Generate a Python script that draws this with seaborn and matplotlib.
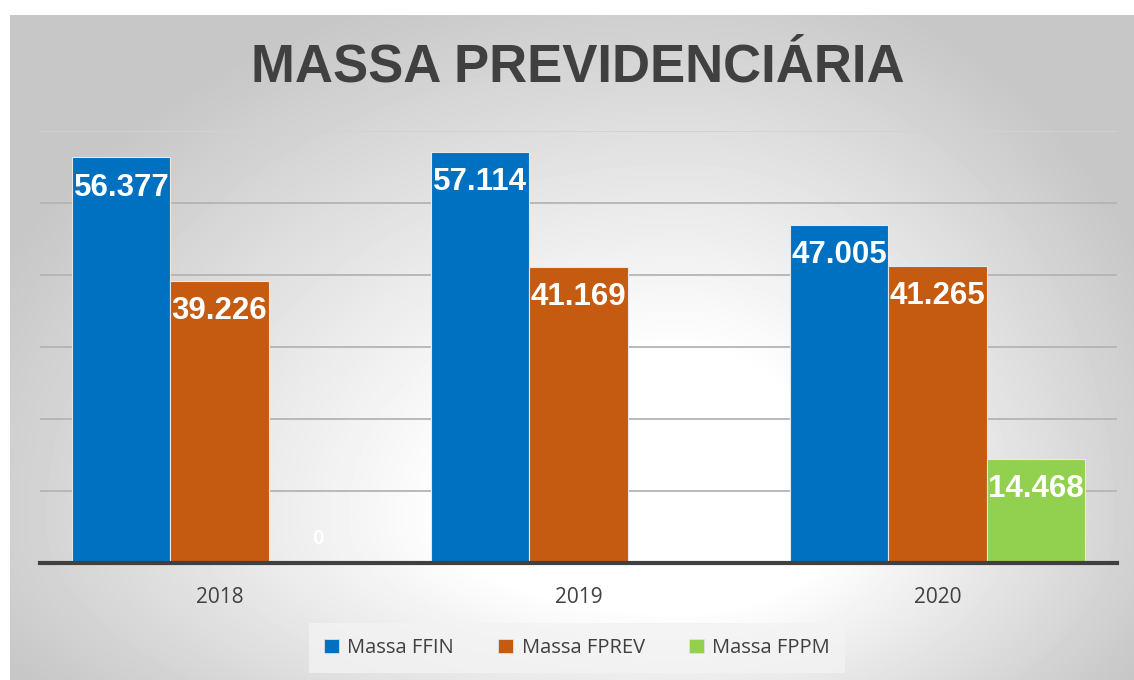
import numpy as np
import pandas as pd
import seaborn as sns
import matplotlib.pyplot as plt
from matplotlib.patches import Patch

anos = ["2018", "2019", "2020"]
series = ["Massa FFIN", "Massa FPREV", "Massa FPPM"]
ffin = [56377, 57114, 47005]
fprev = [39226, 41169, 41265]
fppm = [0, np.nan, 14468]  # 2019 sem valor
cores = ["#0070C0", "#C55A11", "#92D050"]

df = pd.DataFrame({
    "ano": anos * 3,
    "serie": [s for s in series for _ in anos],
    "valor": ffin + fprev + fppm,
})

sns.set_theme(style="white")
plt.rcParams["font.family"] = ["Liberation Sans", "DejaVu Sans"]

W, H = 1134, 680
fig = plt.figure(figsize=(W / 100, H / 100), dpi=100)
fig.patch.set_facecolor("white")

# fundo com gradiente (claro no centro, cinza nas bordas)
bg = fig.add_axes([10 / W, 0, 1 - 10 / W, (H - 15) / H])
yy, xx = np.mgrid[15:H, 10:W].astype(float)
cx, cy = 680, 520
dx = np.where(xx < cx, (xx - cx) / 760, (xx - cx) / 520)
dy = np.where(yy < cy, (yy - cy) / 560, (yy - cy) / 300)
d = np.sqrt(dx ** 2 + dy ** 2)
t = np.clip((d - 0.3) / 0.7, 0, 1)
shade = 1.0 - 0.22 * t
bg.imshow(shade, cmap="gray", vmin=0, vmax=1, aspect="auto", interpolation="bilinear")
bg.axis("off")

ax = fig.add_axes([40 / W, 1 - 563 / H, (1117 - 40) / W, (563 - 131) / H])
ax.set_facecolor("none")

sns.barplot(data=df, x="ano", y="valor", hue="serie", palette=cores, width=0.82,
            saturation=1, edgecolor="#e8e8e8", linewidth=0.8, errorbar=None,
            legend=False, ax=ax, zorder=3)

ax.set_ylim(0, 60000)
ax.set_xlim(-0.5, 2.5)
ax.set_yticks(range(10000, 60001, 10000))
ax.set_yticklabels([])
ax.grid(axis="y", color="#b4b4b4", linewidth=1.3, zorder=0)
ax.get_ygridlines()[-1].set_color("#d2d2d2")
ax.set_axisbelow(True)
for s in ["left", "right", "top"]:
    ax.spines[s].set_visible(False)
ax.spines["bottom"].set_color("#404040")
ax.spines["bottom"].set_linewidth(3)
ax.spines["bottom"].set_zorder(4)
ax.tick_params(axis="both", length=0)
ax.tick_params(axis="x", pad=17, labelsize=15, labelcolor="#404040")
for lb in ax.get_xticklabels():
    lb.set_family(["Open Sans", "DejaVu Sans"])
ax.set_xlabel("")
ax.set_ylabel("")

for cont in ax.containers:
    for bar in cont:
        v = bar.get_height()
        if np.isnan(v):
            continue
        txt = f"{int(round(v)):,}".replace(",", ".")
        xc = bar.get_x() + bar.get_width() / 2
        if v > 0:
            ax.annotate(txt, (xc, v), xytext=(0, -22), textcoords="offset points",
                        ha="center", va="center", color="white", fontsize=22.5,
                        fontweight="bold", zorder=5)
        else:
            ax.annotate(txt, (xc, v), xytext=(0, 18), textcoords="offset points",
                        ha="center", va="center", color="white", fontsize=15,
                        fontweight="bold", zorder=5)

fig.text(578 / W, 1 - 67 / H, "MASSA PREVIDENCIÁRIA", ha="center", va="center",
         fontsize=38, fontweight="bold", color="#404040")

handles = [Patch(facecolor=c, edgecolor="#e0e0e0", linewidth=0.6) for c in cores]
leg = fig.legend(handles, series, loc="center", bbox_to_anchor=(577 / W, 1 - 648 / H),
                 ncol=3, frameon=True, handlelength=0.75, handleheight=0.75,
                 handletextpad=0.4, columnspacing=2.2, borderpad=0.75,
                 prop={"family": ["Open Sans", "DejaVu Sans"], "size": 14.5})
leg.get_frame().set_facecolor("#f3f3f3")
leg.get_frame().set_edgecolor("none")
leg.get_frame().set_boxstyle("square", pad=0)
for t_ in leg.get_texts():
    t_.set_color("#404040")

fig.savefig("out.png", dpi=100)
